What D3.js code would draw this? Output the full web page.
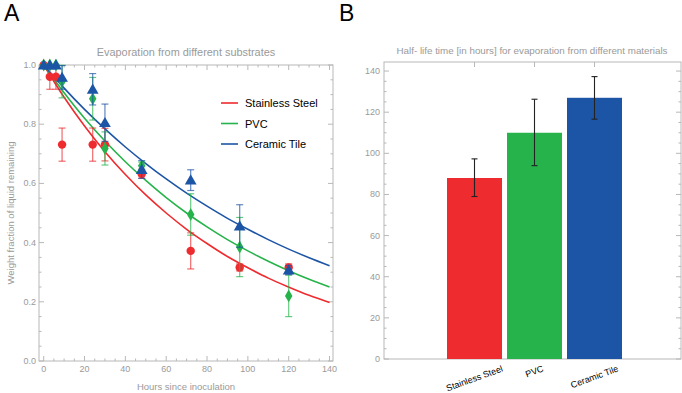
<!DOCTYPE html>
<html>
<head>
<meta charset="utf-8">
<script src="https://cdn.jsdelivr.net/npm/d3@7"></script>
<style>
body { margin: 0; background: #fff; }
svg text { font-family: "Liberation Sans", Arial, sans-serif; }
</style>
</head>
<body>
<svg id="chart" width="682" height="393"></svg>
<script>
// panel A data: measured points
var hours = [0, 3, 6, 9, 24, 30, 48, 72, 96, 120];
var steel = [1.0, 0.96, 0.96, 0.731, 0.731, 0.731, 0.632, 0.372, 0.316, 0.316];
var steelErr = [0, 0.042, 0.042, 0.056, 0.056, 0.055, 0.015, 0.061, 0.012, 0.012];
var pvc = [1.0, 1.0, 1.0, 0.944, 0.886, 0.718, 0.66, 0.495, 0.385, 0.22];
var pvcErr = [0, 0, 0, 0.055, 0.072, 0.056, 0.012, 0.07, 0.1, 0.07];
var tile = [1.0, 1.0, 1.0, 0.958, 0.918, 0.805, 0.647, 0.611, 0.456, 0.307];
var tileErr = [0, 0, 0, 0.04, 0.053, 0.063, 0.03, 0.035, 0.072, 0.015];

// panel A fitted curves
var fitHours = [0, 10, 20, 30, 40, 50, 60, 70, 80, 90, 100, 110, 120, 130, 140];
var steelFit = [1, 0.891, 0.794, 0.707, 0.630, 0.561, 0.500, 0.445, 0.397, 0.353, 0.315, 0.280, 0.250, 0.222, 0.198];
var pvcFit = [1, 0.906, 0.820, 0.743, 0.673, 0.610, 0.552, 0.500, 0.453, 0.410, 0.372, 0.337, 0.305, 0.276, 0.250];
var tileFit = [1, 0.922, 0.850, 0.784, 0.723, 0.667, 0.615, 0.567, 0.523, 0.482, 0.445, 0.410, 0.378, 0.349, 0.322];

// panel B data
var materials = ["Stainless Steel", "PVC", "Ceramic Tile"];
var halfLife = [88, 110, 127];
var halfLifeLo = [79, 94, 116.6];
var halfLifeHi = [97.3, 126.3, 137.3];

var colors = ["#ee2b2f", "#27b34b", "#1d55a6"];
var frameColor = "#b8b8b8", labelColor = "#9a9a9a";

var svg = d3.select("#chart");

function frame(g, x, y, xMajor, xMinor, yMajor, yMinor) {
    var x0 = x.range()[0], x1 = x.range()[1], y0 = y.range()[0], y1 = y.range()[1];
    g.append("rect")
        .attr("x", x0).attr("y", y1).attr("width", x1 - x0).attr("height", y0 - y1)
        .attr("fill", "none").attr("stroke", frameColor).attr("stroke-width", 1);
    function ticks(vals, len) {
        vals.forEach(function(v) {
            var px = x(v);
            g.append("line").attr("x1", px).attr("x2", px).attr("y1", y0).attr("y2", y0 - len)
                .attr("stroke", frameColor);
            g.append("line").attr("x1", px).attr("x2", px).attr("y1", y1).attr("y2", y1 + len)
                .attr("stroke", frameColor);
        });
    }
    function yticks(vals, len) {
        vals.forEach(function(v) {
            var py = y(v);
            g.append("line").attr("x1", x0).attr("x2", x0 + len).attr("y1", py).attr("y2", py)
                .attr("stroke", frameColor);
            g.append("line").attr("x1", x1).attr("x2", x1 - len).attr("y1", py).attr("y2", py)
                .attr("stroke", frameColor);
        });
    }
    ticks(xMajor, 5); ticks(xMinor, 2.5);
    yticks(yMajor, 5); yticks(yMinor, 2.5);
}

// ---------- Panel A ----------
var gA = svg.append("g");
var xA = d3.scaleLinear().domain([-2.3, 141.7]).range([39, 333]);
var yA = d3.scaleLinear().domain([0, 1]).range([361, 65]);

svg.append("text").attr("x", 4).attr("y", 21).attr("font-size", 23).text("A");

var xMajA = d3.range(0, 141, 20), xMinA = d3.range(0, 141, 5).filter(function(d) { return d % 20; });
var yMajA = d3.range(0, 1.01, 0.2), yMinA = d3.range(0, 1.001, 0.05).filter(function(d) { return Math.abs(d * 5 - Math.round(d * 5)) > 1e-6; });
frame(gA, xA, yA, xMajA, xMinA, yMajA, yMinA);

gA.selectAll(".xl").data(xMajA).enter().append("text")
    .attr("x", function(d) { return xA(d); }).attr("y", 372)
    .attr("text-anchor", "middle").attr("font-size", 9).attr("fill", labelColor)
    .text(function(d) { return d; });
gA.selectAll(".yl").data(yMajA).enter().append("text")
    .attr("x", 36).attr("y", function(d) { return yA(d) + 3; })
    .attr("text-anchor", "end").attr("font-size", 9).attr("fill", labelColor)
    .text(d3.format(".1f"));

gA.append("text").attr("x", 186).attr("y", 56).attr("text-anchor", "middle")
    .attr("font-size", 10.9).attr("fill", labelColor).text("Evaporation from different substrates");
gA.append("text").attr("x", 186).attr("y", 390).attr("text-anchor", "middle")
    .attr("font-size", 9.5).attr("fill", labelColor).text("Hours since inoculation");
gA.append("text").attr("transform", "translate(14,213) rotate(-90)").attr("text-anchor", "middle")
    .attr("font-size", 9.5).attr("fill", labelColor).text("Weight fraction of liquid remaining");

var line = d3.line()
    .x(function(d) { return xA(d[0]); })
    .y(function(d) { return yA(d[1]); })
    .curve(d3.curveCatmullRom);

var fits = [steelFit, pvcFit, tileFit];
fits.forEach(function(f, i) {
    gA.append("path")
        .datum(fitHours.map(function(t, j) { return [t, f[j]]; }))
        .attr("d", line).attr("fill", "none")
        .attr("stroke", colors[i]).attr("stroke-width", 1.6);
});

var series = [[steel, steelErr], [pvc, pvcErr], [tile, tileErr]];
var symbols = [d3.symbolCircle, d3.symbolDiamond, d3.symbolTriangle];
var symSize = [56, 48, 60];
series.forEach(function(s, i) {
    var g = gA.append("g");
    var pts = hours.map(function(t, j) { return { t: t, v: s[0][j], e: s[1][j] }; });
    var eb = g.selectAll(".eb").data(pts.filter(function(d) { return d.e > 0; })).enter().append("g")
        .attr("stroke", colors[i]).attr("stroke-opacity", 0.7).attr("stroke-width", 1.2);
    eb.append("line")
        .attr("x1", function(d) { return xA(d.t); }).attr("x2", function(d) { return xA(d.t); })
        .attr("y1", function(d) { return yA(Math.min(1, d.v + d.e)); })
        .attr("y2", function(d) { return yA(d.v - d.e); });
    [1, -1].forEach(function(sg) {
        eb.append("line")
            .attr("x1", function(d) { return xA(d.t) - 3.5; }).attr("x2", function(d) { return xA(d.t) + 3.5; })
            .attr("y1", function(d) { return yA(Math.min(1, d.v + sg * d.e)); })
            .attr("y2", function(d) { return yA(Math.min(1, d.v + sg * d.e)); });
    });
    g.selectAll(".pt").data(pts).enter().append("path")
        .attr("d", d3.symbol().type(symbols[i]).size(symSize[i]))
        .attr("transform", function(d) { return "translate(" + xA(d.t) + "," + (yA(d.v) + (i === 2 ? 1 : 0)) + ")"; })
        .attr("fill", colors[i]);
});

// legend
materials.forEach(function(m, i) {
    var ly = 103 + i * 20.5;
    gA.append("line").attr("x1", 221).attr("x2", 238).attr("y1", ly).attr("y2", ly)
        .attr("stroke", colors[i]).attr("stroke-width", 1.6);
    gA.append("text").attr("x", 245).attr("y", ly + 4).attr("font-size", 11).text(m);
});

// ---------- Panel B ----------
var gB = svg.append("g");
svg.append("text").attr("x", 339).attr("y", 21).attr("font-size", 23).text("B");

var yB = d3.scaleLinear().domain([0, 144.4]).range([359, 62]);
var xB = d3.scaleBand().domain(materials).range([444.5, 624.5]).paddingInner(1 / 12).paddingOuter(1 / 24);
var xFrame = d3.scaleLinear().domain([384, 681]).range([384, 681]);

var yMajB = d3.range(0, 141, 20), yMinB = d3.range(0, 144, 5).filter(function(d) { return d % 20; });
var centers = materials.map(function(m) { return xB(m) + xB.bandwidth() / 2; });
frame(gB, xFrame, yB, centers, [], yMajB, yMinB);

gB.selectAll(".yl").data(yMajB).enter().append("text")
    .attr("x", 380).attr("y", function(d) { return yB(d) + 3; })
    .attr("text-anchor", "end").attr("font-size", 9).attr("fill", labelColor)
    .text(function(d) { return d; });

gB.append("text").attr("x", 532).attr("y", 54).attr("text-anchor", "middle")
    .attr("font-size", 9.8).attr("fill", labelColor)
    .text("Half- life time [in hours] for evaporation from different materials");

gB.selectAll(".bar").data(materials).enter().append("rect")
    .attr("x", function(m) { return xB(m); })
    .attr("width", xB.bandwidth())
    .attr("y", function(m, i) { return yB(halfLife[i]); })
    .attr("height", function(m, i) { return yB(0) - yB(halfLife[i]); })
    .attr("fill", function(m, i) { return colors[i]; });

materials.forEach(function(m, i) {
    var cx = xB(m) + xB.bandwidth() / 2;
    var g = gB.append("g").attr("stroke", "#222").attr("stroke-width", 1.1);
    g.append("line").attr("x1", cx).attr("x2", cx).attr("y1", yB(halfLifeHi[i])).attr("y2", yB(halfLifeLo[i]));
    [halfLifeHi[i], halfLifeLo[i]].forEach(function(v) {
        g.append("line").attr("x1", cx - 3).attr("x2", cx + 3).attr("y1", yB(v)).attr("y2", yB(v));
    });
    var t = gB.append("text").attr("font-size", 9).attr("text-anchor", "middle")
        .attr("dominant-baseline", "central").text(m);
    var w = t.node().getComputedTextLength();
    var a = 20 * Math.PI / 180;
    var half = (w * Math.sin(a) + 9 * Math.cos(a)) / 2;
    t.attr("transform", "translate(" + cx + "," + (364 + half) + ") rotate(-20)");
});
</script>
</body>
</html>
